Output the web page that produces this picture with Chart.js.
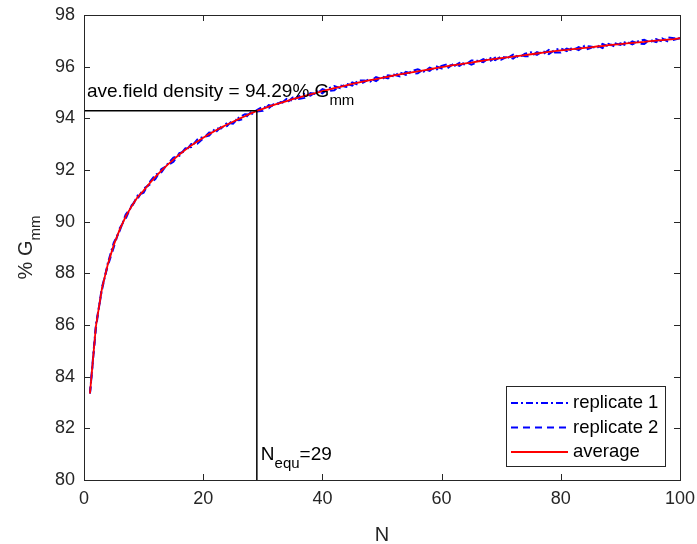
<!DOCTYPE html>
<html>
<head>
<meta charset="utf-8">
<script src="https://cdn.jsdelivr.net/npm/chart.js@4"></script>
<style>
  html, body { margin: 0; padding: 0; background: #fff; }
  #chart { display: block; }
</style>
</head>
<body>
<canvas id="chart" width="697" height="544"></canvas>
<script>
// number of gyrations
const N = [1, 2, 3, 4, 5, 6, 7, 8, 9, 10, 11, 12, 13, 14, 15, 16, 17, 18, 19, 20,
  21, 22, 23, 24, 25, 26, 27, 28, 29, 30, 31, 32, 33, 34, 35, 36, 37, 38, 39, 40,
  41, 42, 43, 44, 45, 46, 47, 48, 49, 50, 51, 52, 53, 54, 55, 56, 57, 58, 59, 60,
  61, 62, 63, 64, 65, 66, 67, 68, 69, 70, 71, 72, 73, 74, 75, 76, 77, 78, 79, 80,
  81, 82, 83, 84, 85, 86, 87, 88, 89, 90, 91, 92, 93, 94, 95, 96, 97, 98, 99, 100];

const replicate1 = [83.35, 86.03, 87.34, 88.40, 89.19, 89.65, 90.28, 90.57, 91.01, 91.12,
  91.53, 91.82, 91.92, 92.23, 92.48, 92.55, 92.84, 92.89, 93.18, 93.28,
  93.33, 93.60, 93.61, 93.82, 93.79, 94.03, 94.16, 94.14, 94.32, 94.45,
  94.39, 94.59, 94.57, 94.75, 94.68, 94.85, 94.95, 94.88, 95.05, 94.97,
  95.16, 95.25, 95.17, 95.34, 95.27, 95.46, 95.46, 95.42, 95.60, 95.52,
  95.67, 95.63, 95.78, 95.68, 95.83, 95.90, 95.81, 95.96, 95.86, 96.03,
  96.10, 96.01, 96.15, 96.07, 96.24, 96.23, 96.17, 96.35, 96.25, 96.39,
  96.33, 96.47, 96.36, 96.50, 96.56, 96.46, 96.60, 96.49, 96.65, 96.71,
  96.60, 96.74, 96.64, 96.81, 96.78, 96.72, 96.88, 96.78, 96.91, 96.84,
  96.98, 96.86, 96.99, 97.04, 96.94, 97.07, 96.97, 97.13, 97.10, 97.10];

const replicate2 = [83.35, 85.87, 87.46, 88.30, 89.01, 89.75, 90.12, 90.63, 90.89, 91.28,
  91.43, 91.66, 92.04, 92.17, 92.32, 92.65, 92.72, 93.01, 93.02, 93.22,
  93.45, 93.44, 93.67, 93.70, 93.95, 93.93, 94.00, 94.24, 94.26, 94.29,
  94.51, 94.47, 94.63, 94.59, 94.80, 94.75, 94.79, 94.98, 94.93, 95.13,
  95.06, 95.09, 95.27, 95.22, 95.39, 95.30, 95.40, 95.54, 95.44, 95.62,
  95.55, 95.69, 95.62, 95.80, 95.73, 95.74, 95.91, 95.84, 96.02, 95.93,
  95.94, 96.11, 96.03, 96.19, 96.08, 96.17, 96.29, 96.19, 96.35, 96.27,
  96.39, 96.31, 96.48, 96.40, 96.40, 96.56, 96.48, 96.65, 96.55, 96.55,
  96.70, 96.62, 96.76, 96.65, 96.72, 96.84, 96.72, 96.88, 96.79, 96.90,
  96.82, 96.98, 96.89, 96.88, 97.04, 96.95, 97.09, 96.97, 97.04, 97.10];

const average = [83.35, 85.95, 87.40, 88.35, 89.10, 89.70, 90.20, 90.60, 90.95, 91.20,
  91.48, 91.74, 91.98, 92.20, 92.40, 92.60, 92.78, 92.95, 93.10, 93.25,
  93.39, 93.52, 93.64, 93.76, 93.87, 93.98, 94.08, 94.19, 94.29, 94.37,
  94.45, 94.53, 94.60, 94.67, 94.74, 94.80, 94.87, 94.93, 94.99, 95.05,
  95.11, 95.17, 95.22, 95.28, 95.33, 95.38, 95.43, 95.48, 95.52, 95.57,
  95.61, 95.66, 95.70, 95.74, 95.78, 95.82, 95.86, 95.90, 95.94, 95.98,
  96.02, 96.06, 96.09, 96.13, 96.16, 96.20, 96.23, 96.27, 96.30, 96.33,
  96.36, 96.39, 96.42, 96.45, 96.48, 96.51, 96.54, 96.57, 96.60, 96.63,
  96.65, 96.68, 96.70, 96.73, 96.75, 96.78, 96.80, 96.83, 96.85, 96.87,
  96.90, 96.92, 96.94, 96.96, 96.99, 97.01, 97.03, 97.05, 97.07, 97.10];

const avgDensity = 94.29;
const nEqu = 29;

const xTicks = [0, 20, 40, 60, 80, 100];
const yTicks = [80, 82, 84, 86, 88, 90, 92, 94, 96, 98];

const ink = "#262626";
const family = '"Liberation Sans", Arial, Helvetica, sans-serif';

function pts(ys) {
  return N.map((n, i) => ({ x: n, y: ys[i] }));
}

// text with a subscript part, left aligned on baseline
function subText(ctx, x, y, main, sub, size, subSize, drop) {
  ctx.font = size + "px " + family;
  ctx.fillText(main, x, y);
  const w = ctx.measureText(main).width;
  ctx.font = subSize + "px " + family;
  ctx.fillText(sub, x + w, y + drop);
  return w + ctx.measureText(sub).width;
}

function subWidth(ctx, main, sub, size, subSize) {
  ctx.font = size + "px " + family;
  const w = ctx.measureText(main).width;
  ctx.font = subSize + "px " + family;
  return w + ctx.measureText(sub).width;
}

const frame = {
  id: "frame",
  afterDatasetsDraw(chart) {
    const ctx = chart.ctx;
    const a = chart.chartArea;
    const xs = chart.scales.x, ys = chart.scales.y;
    ctx.save();

    // box + inward ticks
    ctx.strokeStyle = ink;
    ctx.lineWidth = 1;
    ctx.strokeRect(Math.round(a.left) + 0.5, Math.round(a.top) + 0.5,
      Math.round(a.right - a.left), Math.round(a.bottom - a.top));
    ctx.beginPath();
    xTicks.forEach(v => {
      const px = Math.round(xs.getPixelForValue(v)) + 0.5;
      ctx.moveTo(px, a.bottom); ctx.lineTo(px, a.bottom - 6);
      ctx.moveTo(px, a.top); ctx.lineTo(px, a.top + 6);
    });
    yTicks.forEach(v => {
      const py = Math.round(ys.getPixelForValue(v)) + 0.5;
      ctx.moveTo(a.left, py); ctx.lineTo(a.left + 6, py);
      ctx.moveTo(a.right, py); ctx.lineTo(a.right - 6, py);
    });
    ctx.stroke();

    // annotations
    ctx.fillStyle = "#000";
    ctx.textBaseline = "alphabetic";
    ctx.textAlign = "left";
    subText(ctx, xs.getPixelForValue(0.5), ys.getPixelForValue(avgDensity + 0.54),
      "ave.field density = " + avgDensity + "% G", "mm", 19, 15, 8);
    const nx = xs.getPixelForValue(nEqu) + 4, ny = ys.getPixelForValue(80.77);
    const nw = subText(ctx, nx, ny, "N", "equ", 19, 15, 8);
    ctx.font = "19px " + family;
    ctx.fillText("=" + nEqu, nx + nw, ny);

    // legend
    const lx = 506, ly = 386, lw = 159, lh = 80;
    ctx.fillStyle = "#fff";
    ctx.fillRect(lx, ly, lw, lh);
    ctx.strokeStyle = ink;
    ctx.lineWidth = 1;
    ctx.strokeRect(lx + 0.5, ly + 0.5, lw, lh);
    chart.data.datasets.filter(d => d.inLegend).forEach((d, i) => {
      const y = ly + 17 + i * 24.5;
      ctx.strokeStyle = d.borderColor;
      ctx.lineWidth = d.borderWidth;
      ctx.setLineDash(d.borderDash || []);
      ctx.beginPath();
      ctx.moveTo(511, y); ctx.lineTo(568, y);
      ctx.stroke();
      ctx.setLineDash([]);
      ctx.fillStyle = "#000";
      ctx.font = "18.5px " + family;
      ctx.textBaseline = "middle";
      ctx.fillText(d.label, 573, y);
    });

    // axis titles
    ctx.fillStyle = ink;
    ctx.textBaseline = "alphabetic";
    ctx.textAlign = "center";
    ctx.font = "20px " + family;
    ctx.fillText("N", (a.left + a.right) / 2, 541);

    ctx.textAlign = "left";
    ctx.translate(32, (a.top + a.bottom) / 2);
    ctx.rotate(-Math.PI / 2);
    const tw = subWidth(ctx, "% G", "mm", 20, 15);
    subText(ctx, -tw / 2, 0, "% G", "mm", 20, 15, 8);
    ctx.restore();
  }
};

new Chart(document.getElementById("chart"), {
  type: "line",
  data: {
    datasets: [
      { label: "replicate 1", inLegend: true, data: pts(replicate1), borderColor: "#0000ff",
        borderWidth: 2, borderDash: [7, 3, 2, 3], order: 3 },
      { label: "replicate 2", inLegend: true, data: pts(replicate2), borderColor: "#0000ff",
        borderWidth: 2, borderDash: [7, 5], order: 2 },
      { label: "average", inLegend: true, data: pts(average), borderColor: "#ff0000",
        borderWidth: 1.8, order: 1 },
      { label: "density line", data: [{ x: 0, y: avgDensity }, { x: nEqu, y: avgDensity }],
        borderColor: "#000", borderWidth: 1.5, order: 0 },
      { label: "N line", data: [{ x: nEqu, y: 80 }, { x: nEqu, y: avgDensity }],
        borderColor: "#000", borderWidth: 1.5, order: 0 }
    ]
  },
  options: {
    responsive: false,
    animation: false,
    devicePixelRatio: 1,
    elements: { point: { radius: 0 }, line: { tension: 0, fill: false } },
    layout: { padding: { top: 15, right: 17, left: 0, bottom: 0 } },
    plugins: { legend: { display: false }, tooltip: { enabled: false } },
    scales: {
      x: {
        type: "linear", min: 0, max: 100,
        afterBuildTicks: s => { s.ticks = xTicks.map(v => ({ value: v })); },
        ticks: { color: ink, font: { family: family, size: 18 }, padding: 8, maxRotation: 0 },
        grid: { display: false, drawTicks: false },
        border: { display: false },
        afterFit: s => { s.height = 64; s.paddingLeft = 0; s.paddingRight = 0; }
      },
      y: {
        min: 80, max: 98,
        afterBuildTicks: s => { s.ticks = yTicks.map(v => ({ value: v })); },
        ticks: { color: ink, font: { family: family, size: 18 }, padding: 9 },
        grid: { display: false, drawTicks: false },
        border: { display: false },
        afterFit: s => { s.width = 84; s.paddingTop = 0; s.paddingBottom = 0; }
      }
    }
  },
  plugins: [frame]
});
</script>
</body>
</html>
